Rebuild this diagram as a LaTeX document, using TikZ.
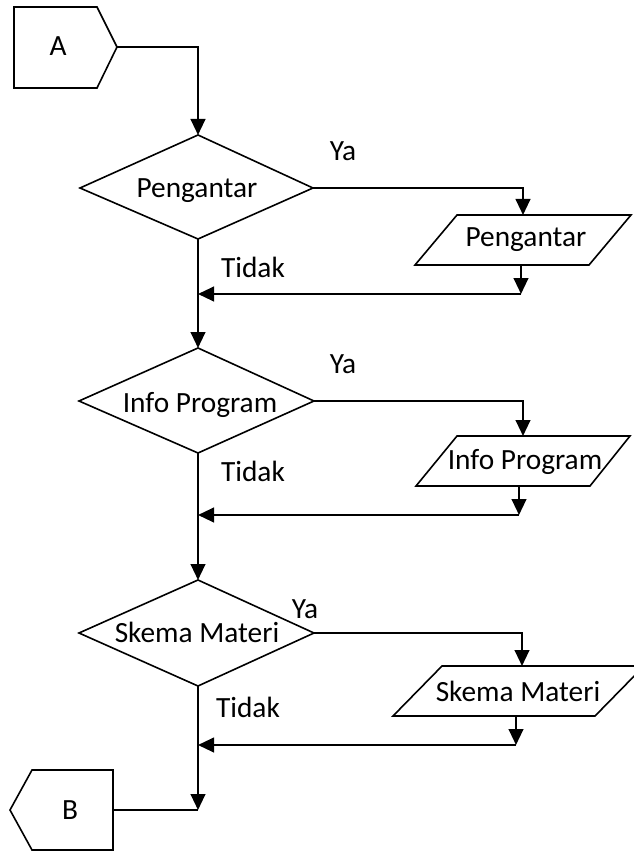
\documentclass[tikz,border=0pt]{standalone}
\usepackage{fontspec}
\setmainfont{Carlito}
\usetikzlibrary{arrows.meta}
\begin{document}
\begin{tikzpicture}[x=0.75pt,y=-0.75pt,
  outline/.style={line width=1.2pt, line join=miter},
  conn/.style={line width=1.6pt},
  arr/.style={conn,-{Triangle[length=12pt,width=11pt]}},
  lbl/.style={inner sep=0pt, anchor=base, font=\fontsize{22}{26}\selectfont}]
\useasboundingbox (0,0) rectangle (633,852);

% connector A
\coordinate (Atl) at (14,7);
\coordinate (Atr) at (97,7);
\coordinate (Ap) at (117,47);
\coordinate (Abr) at (97,88);
\coordinate (Abl) at (14,88);
\draw[outline] (Atl) -- (Atr) -- (Ap) -- (Abr) -- (Abl) -- cycle;
\node[lbl] (A) at (58,56) {A};

% diamond 1
\coordinate (d1t) at (198,135);
\coordinate (d1r) at (313,188);
\coordinate (d1b) at (198,239);
\coordinate (d1l) at (80,188);
\draw[outline] (d1t) -- (d1r) -- (d1b) -- (d1l) -- cycle;
\node[lbl] (d1) at (197,198) {Pengantar};

% parallelogram 1
\coordinate (p1tl) at (457,215);
\coordinate (p1tr) at (631,215);
\coordinate (p1br) at (589,265);
\coordinate (p1bl) at (415,265);
\draw[outline] (p1tl) -- (p1tr) -- (p1br) -- (p1bl) -- cycle;
\node[lbl] (p1) at (526,247) {Pengantar};
\coordinate (p1t) at (523,215);
\coordinate (p1b) at (521,265);
\coordinate (j1r) at (521,294);
\coordinate (j1) at (198,294);

% diamond 2
\coordinate (d2t) at (198,348);
\coordinate (d2r) at (314,401);
\coordinate (d2b) at (198,453);
\coordinate (d2l) at (79,401);
\draw[outline] (d2t) -- (d2r) -- (d2b) -- (d2l) -- cycle;
\node[lbl] (d2) at (200,412) {Info Program};

% parallelogram 2
\coordinate (p2tl) at (457,436);
\coordinate (p2tr) at (630,436);
\coordinate (p2br) at (590,486);
\coordinate (p2bl) at (416,486);
\draw[outline] (p2tl) -- (p2tr) -- (p2br) -- (p2bl) -- cycle;
\node[lbl] (p2) at (525,469) {Info Program};
\coordinate (p2t) at (523,436);
\coordinate (p2b) at (519,486);
\coordinate (j2r) at (519,515);
\coordinate (j2) at (198,515);

% diamond 3
\coordinate (d3t) at (198,580);
\coordinate (d3r) at (314,633);
\coordinate (d3b) at (198,686);
\coordinate (d3l) at (79,633);
\draw[outline] (d3t) -- (d3r) -- (d3b) -- (d3l) -- cycle;
\node[lbl] (d3) at (197,642) {Skema Materi};

% parallelogram 3
\coordinate (p3tl) at (442,666);
\coordinate (p3tr) at (644,666);
\coordinate (p3br) at (595,716);
\coordinate (p3bl) at (393,716);
\draw[outline] (p3tl) -- (p3tr) -- (p3br) -- (p3bl) -- cycle;
\node[lbl] (p3) at (518,701) {Skema Materi};
\coordinate (p3t) at (522,666);
\coordinate (p3b) at (516,716);
\coordinate (j3r) at (516,745);
\coordinate (j3) at (198,745);

% connector B
\coordinate (Bp) at (10,810);
\coordinate (Btl) at (32,770);
\coordinate (Btr) at (113,770);
\coordinate (Bbr) at (113,850);
\coordinate (Bbl) at (32,850);
\draw[outline] (Bp) -- (Btl) -- (Btr) -- (Bbr) -- (Bbl) -- cycle;
\node[lbl] (B) at (70,819) {B};
\coordinate (Br) at (113,810);
\coordinate (jB) at (198,810);

% labels
\node[lbl] (ya1) at (343,161) {Ya};
\node[lbl] (ti1) at (253,277) {Tidak};
\node[lbl] (ya2) at (343,373) {Ya};
\node[lbl] (ti2) at (253,481) {Tidak};
\node[lbl] (ya3) at (305,618) {Ya};
\node[lbl] (ti3) at (248,717) {Tidak};

% connectors
\draw[arr] (Ap) -| (d1t);
\draw[arr] (d1r) -| (p1t);
\draw[arr] (p1b) -- (j1r);
\draw[arr] (j1r) -- (j1);
\draw[arr] (d1b) -- (d2t);
\draw[arr] (d2r) -| (p2t);
\draw[arr] (p2b) -- (j2r);
\draw[arr] (j2r) -- (j2);
\draw[arr] (d2b) -- (d3t);
\draw[arr] (d3r) -| (p3t);
\draw[arr] (p3b) -- (j3r);
\draw[arr] (j3r) -- (j3);
\draw[arr] (d3b) -- (jB);
\draw[outline] (Br) -- (jB);
\end{tikzpicture}
\end{document}
